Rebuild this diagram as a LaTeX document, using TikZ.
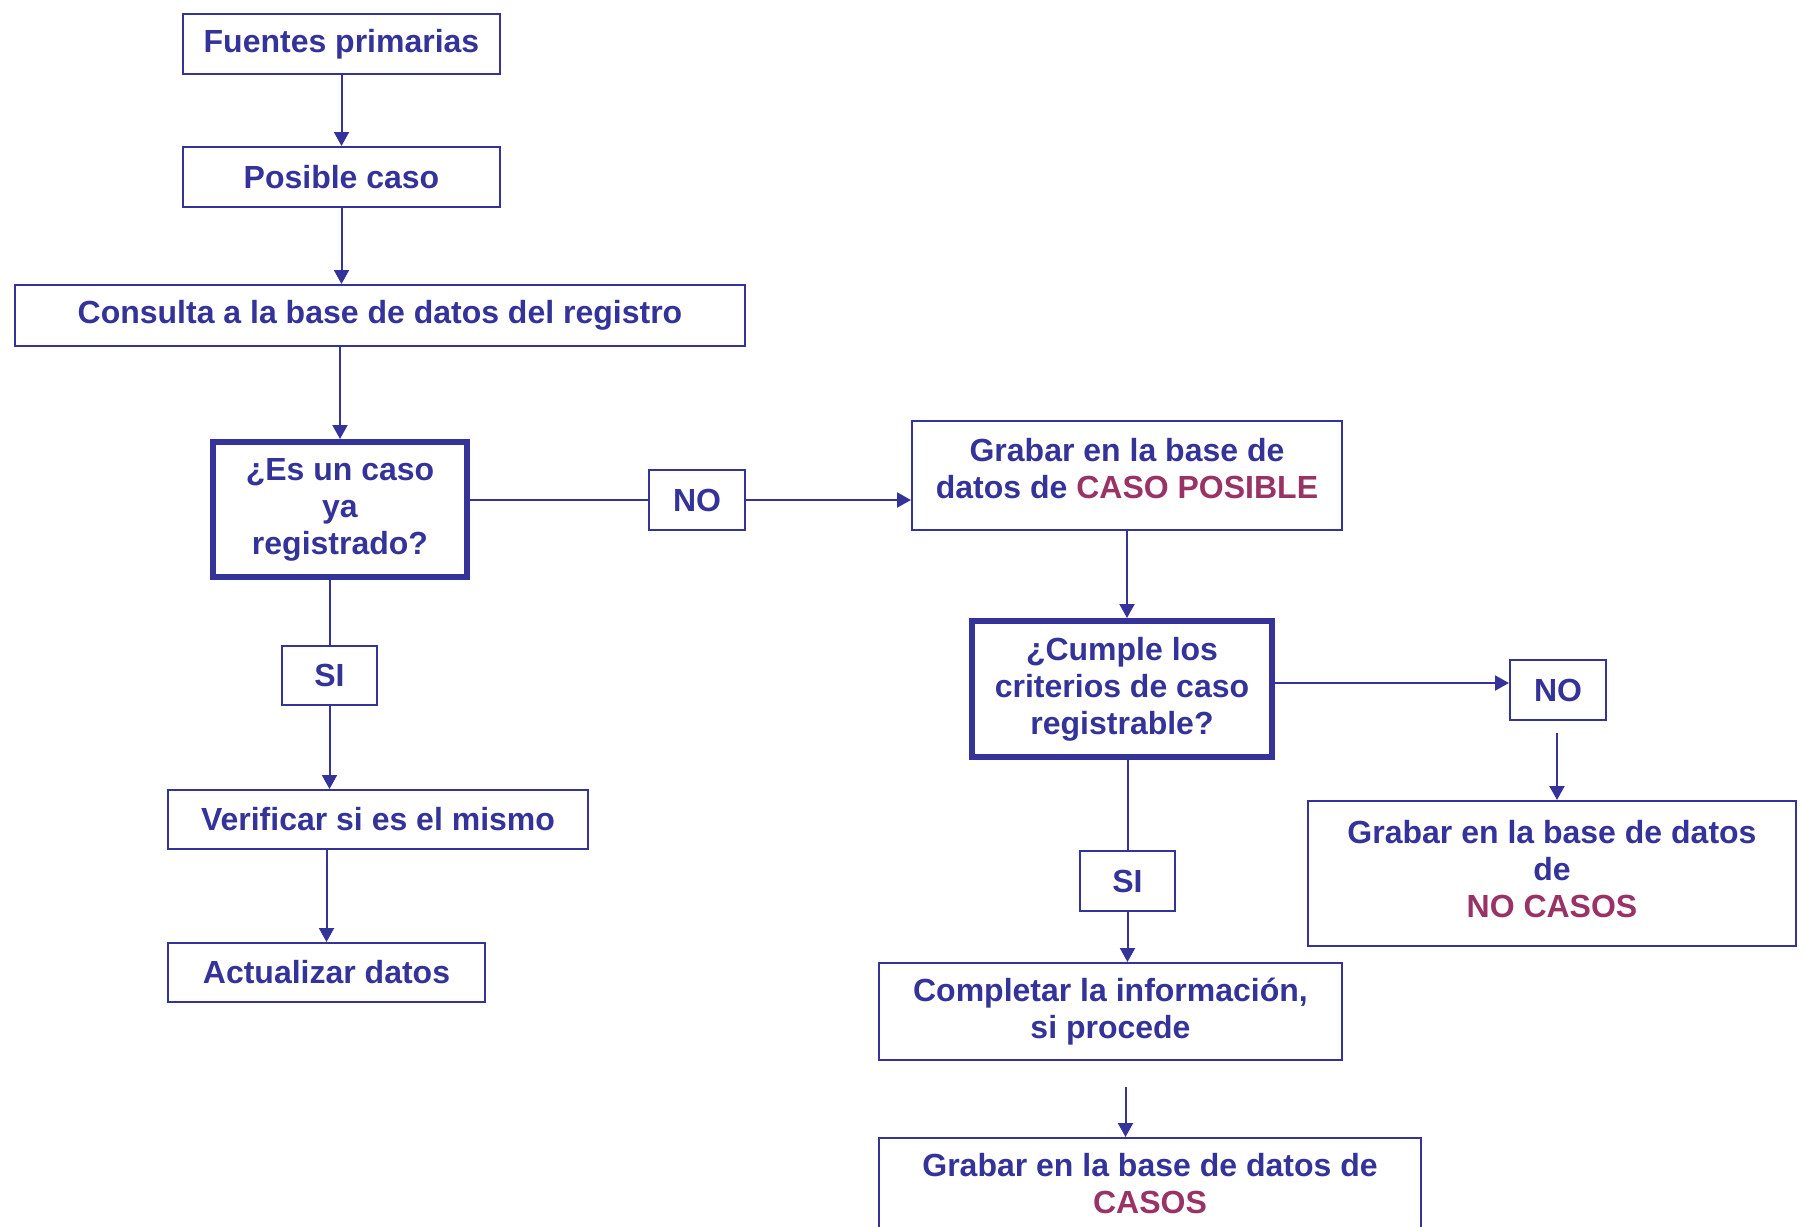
\documentclass[tikz,border=0pt]{standalone}
\usepackage{fontspec}
\setmainfont{Liberation Sans}
\usetikzlibrary{arrows.meta,calc}
\definecolor{myblue}{HTML}{333399}
\definecolor{myred}{HTML}{993366}
\begin{document}
\begin{tikzpicture}[x=0.5pt,y=-0.5pt,
  bx/.style={draw=myblue, line width=1pt, text=myblue, align=center, inner sep=0pt,
    font=\fontsize{16}{18.5}\selectfont\bfseries},
  thickbx/.style={bx, line width=3pt},
  conn/.style={draw=myblue, line width=1pt},
  arr/.style={conn, -{Triangle[length=7pt,width=7.5pt]}},
  hl/.style={text=myred}]
\useasboundingbox (0,0) rectangle (1806,1227);
\clip (0,0) rectangle (1806,1227);
% nodes
\node[bx, minimum width=158.5pt, minimum height=30pt] (fuentes) at (341.5,44) {Fuentes primarias};
\node[bx, minimum width=158.5pt, minimum height=30pt] (posible) at (341.5,177) {Posible caso};
\node[bx, minimum width=365pt, minimum height=30.5pt] (consulta) at (380,315.5) {Consulta a la base de datos del registro};
\node[thickbx, minimum width=127pt, minimum height=67.5pt] (es) at (340,509.5) {¿Es un caso\\ya\\registrado?};
\node[bx, minimum width=48pt, minimum height=30pt] (no1) at (697,500) {NO};
\node[bx, minimum width=215pt, minimum height=54.5pt] (grabar1) at (1127,475.5) {Grabar en la base de\\datos de \textcolor{myred}{CASO POSIBLE}\rule[-7pt]{0pt}{0pt}};
\node[bx, minimum width=47.5pt, minimum height=29.5pt] (si1) at (329.5,675.5) {SI};
\node[bx, minimum width=210pt, minimum height=29.5pt] (verificar) at (378,819.5) {Verificar si es el mismo};
\node[bx, minimum width=158.5pt, minimum height=29.5pt] (actualizar) at (326.5,972.5) {Actualizar datos};
\node[thickbx, minimum width=150pt, minimum height=68pt] (cumple) at (1122,689) {¿Cumple los\\criterios de caso\\registrable?};
\node[bx, minimum width=48pt, minimum height=30pt] (no2) at (1558,690) {NO};
\node[bx, minimum width=244pt, minimum height=72.5pt] (nocasos) at (1552,873.5) {Grabar en la base de datos\\de\\\textcolor{myred}{NO CASOS}\rule[-4.6pt]{0pt}{0pt}};
\node[bx, minimum width=47.5pt, minimum height=30pt] (si2) at (1127.5,881) {SI};
\node[bx, minimum width=231.5pt, minimum height=48.5pt] (completar) at (1110.5,1011.5) {Completar la información,\\si procede};
\node[bx, minimum width=271pt, minimum height=46pt] (casos) at (1150,1184) {Grabar en la base de datos de\\\textcolor{myred}{CASOS}};
% connectors
\draw[arr] (fuentes.south) -- (posible.north);
\draw[arr] (posible.south) -- (posible.south |- consulta.north);
\draw[arr] (es.north |- consulta.south) -- (es.north);
\draw[conn] (no1.west -| es.east) -- (no1.west);
\draw[arr] (no1.east) -- (no1.east -| grabar1.west);
\draw[conn] (si1.north |- es.south) -- (si1.north);
\draw[arr] (si1.south) -- (si1.south |- verificar.north);
\draw[arr] (actualizar.north |- verificar.south) -- (actualizar.north);
\draw[arr] (grabar1.south) -- (grabar1.south |- cumple.north);
\draw[arr] ($(no2.west -| cumple.east)+(-6,-7)$) -- ($(no2.west)+(0,-7)$);
\draw[arr] ($(no2.south)+(-1,12)$) -- ($(no2.south |- nocasos.north)+(-1,0)$);
\draw[conn] (si2.north |- cumple.south) -- (si2.north);
\draw[arr] (si2.south) -- (si2.south |- completar.north);
\draw[arr] ($(si2.south |- completar.south)+(-2,26)$) -- ($(si2.south |- casos.north)+(-2,0)$);
\end{tikzpicture}
\end{document}
